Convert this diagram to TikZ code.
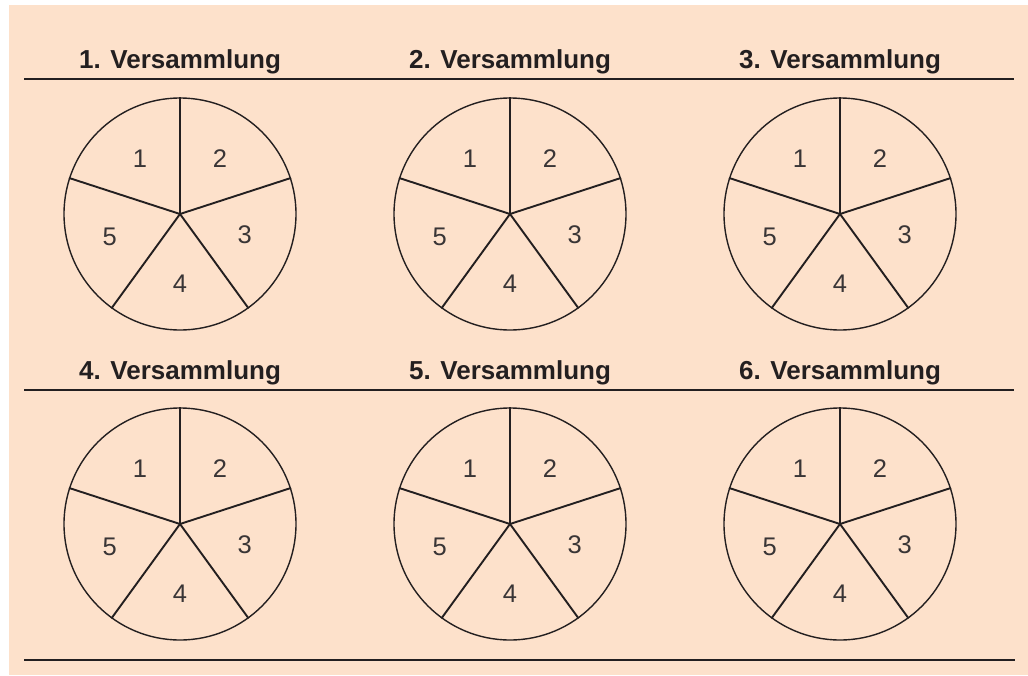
\documentclass[tikz,border=0pt]{standalone}
\usepackage{fontspec}
\setmainfont{Liberation Sans}
\usetikzlibrary{calc}
\definecolor{peach}{RGB}{253,225,203}
\definecolor{ink}{RGB}{35,31,32}
\begin{document}
\begin{tikzpicture}[x=1pt,y=-1pt,
  pie/.style={circle,draw=ink,line width=1.4pt,minimum size=232pt,inner sep=0pt},
  spoke/.style={draw=ink,line width=1.9pt},
  head/.style={font=\fontsize{26}{30}\selectfont\bfseries,text=ink,anchor=base,inner sep=0pt},
  num/.style={font=\fontsize{25.5}{29}\selectfont,text=ink!90,inner sep=0pt},
  rule/.style={draw=ink,line width=2.2pt}]
\useasboundingbox (0,0) rectangle (1028,675);
\fill[white] (0,0) rectangle (1028,675);
\fill[peach] (9,5) rectangle (1028,675);
% header rules
\coordinate (r1a) at (24,79); \coordinate (r1b) at (1014,79);
\coordinate (r2a) at (24,390); \coordinate (r2b) at (1014,390);
\coordinate (r3a) at (24,660); \coordinate (r3b) at (1015,660);
\draw[rule] (r1a) -- (r1b);
\draw[rule] (r2a) -- (r2b);
\draw[draw=ink,line width=1.3pt] (r3a) -- (r3b);
\foreach \n/\cx/\cy/\hy in {1/180/214/68, 2/510/214/68, 3/840/214/68, 4/180/524/379, 5/510/524/379, 6/840/524/379}{
  \node[head] (h\n) at (\cx,\hy) {\n. Versammlung};
  \node[pie] (p\n) at (\cx,\cy) {};
  \foreach \a in {90,18,-54,-126,162}{
    \draw[spoke] (p\n.center) -- (p\n.\a);
  }
  \foreach \k/\b/\r in {1/-126/68,2/-54/68,3/18/68,4/90/70,5/162/74}{
    \node[num] (p\n l\k) at ($(p\n.center)+(\b:\r)$) {\k};
  }
}
\end{tikzpicture}
\end{document}
